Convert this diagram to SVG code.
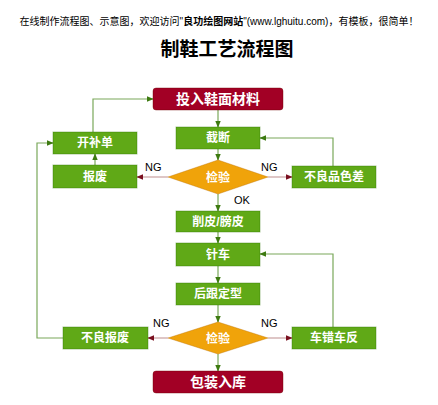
<svg xmlns="http://www.w3.org/2000/svg" width="438" height="405" viewBox="0 0 438 405">
<defs>
<style>
text{font-family:"Liberation Sans","Noto Sans CJK SC",sans-serif;}
.g rect{fill:#60a917;stroke:#2d7600;stroke-width:1;stroke-opacity:0.4;}
.r rect{fill:#a20025;stroke:#6f0000;stroke-width:1;stroke-opacity:0.4;}
.o polygon{fill:#f0a30a;stroke:#bd7000;stroke-width:1;stroke-opacity:0.4;}
.lbl{fill:#fff;font-size:12px;text-anchor:middle;font-weight:bold;}
.big{fill:#fff;font-size:14px;text-anchor:middle;font-weight:bold;}
.e{fill:none;stroke:#7aa85a;stroke-width:1.2;marker-end:url(#ag);}
.er{fill:none;stroke:#c8a0a0;stroke-width:1.2;marker-end:url(#ar);}
.t{font-size:11px;fill:#000;}
</style>
<marker id="ag" viewBox="0 0 10 10" refX="9" refY="5" markerWidth="6" markerHeight="6" orient="auto"><path d="M0,1 L10,5 L0,9 z" fill="#3d7a10"/></marker>
<marker id="ar" viewBox="0 0 10 10" refX="9" refY="5" markerWidth="6" markerHeight="6" orient="auto"><path d="M0,1 L10,5 L0,9 z" fill="#7a1020"/></marker>
</defs>
<rect width="438" height="405" fill="#fff"/>
<text x="219" y="25" text-anchor="middle" font-size="10" fill="#000">在线制作流程图、示意图，欢迎访问"<tspan font-weight="bold">良功绘图网站</tspan>"(www.lghuitu.com)，有模板，很简单！</text>
<text x="227" y="56" text-anchor="middle" font-size="19" font-weight="bold" fill="#000">制鞋工艺流程图</text>

<g id="connectors">
<path class="e" d="M218,110 V127"/>
<path class="e" d="M218,149 V160"/>
<path class="er" d="M168,177 H137"/>
<path class="er" d="M268,177 H292"/>
<path class="e" d="M333,166 V138 H260"/>
<path class="e" d="M95,165 V154"/>
<path class="e" d="M93,132 V99 H153"/>
<path class="e" d="M218,194 V211"/>
<path class="e" d="M218,232 V243"/>
<path class="e" d="M218,266 V283"/>
<path class="e" d="M218,305 V322"/>
<path class="er" d="M168,338 H148"/>
<path class="er" d="M268,338 H292"/>
<path class="e" d="M333,327 V254 H260"/>
<path class="e" d="M63,338 H37 V143 H53"/>
<path class="e" d="M218,354 V371"/>
<text class="t" x="145" y="171">NG</text>
<text class="t" x="261" y="171">NG</text>
<text class="t" x="234" y="204">OK</text>
<text class="t" x="153" y="327">NG</text>
<text class="t" x="261" y="327">NG</text>
</g>

<g id="n1" class="r"><rect x="153" y="88" width="130" height="22" rx="3"/><text class="big" x="218" y="104">投入鞋面材料</text></g>
<g id="n2" class="g"><rect x="176" y="127" width="84" height="22"/><text class="lbl" x="218" y="142">截断</text></g>
<g id="n3" class="o"><polygon points="218,160 268,177 218,194 168,177"/><text class="lbl" x="218" y="182">检验</text></g>
<g id="n4" class="g"><rect x="53" y="165" width="84" height="23"/><text class="lbl" x="95" y="181">报废</text></g>
<g id="n5" class="g"><rect x="53" y="132" width="84" height="22"/><text class="lbl" x="95" y="147">开补单</text></g>
<g id="n6" class="g"><rect x="292" y="166" width="84" height="22"/><text class="lbl" x="334" y="181">不良品色差</text></g>
<g id="n7" class="g"><rect x="176" y="211" width="84" height="21"/><text class="lbl" x="218" y="226">削皮/膀皮</text></g>
<g id="n8" class="g"><rect x="176" y="243" width="84" height="23"/><text class="lbl" x="218" y="259">针车</text></g>
<g id="n9" class="g"><rect x="176" y="283" width="84" height="22"/><text class="lbl" x="218" y="298">后跟定型</text></g>
<g id="n10" class="o"><polygon points="218,322 268,338 218,354 168,338"/><text class="lbl" x="218" y="343">检验</text></g>
<g id="n11" class="g"><rect x="63" y="327" width="85" height="22"/><text class="lbl" x="105" y="342">不良报废</text></g>
<g id="n12" class="g"><rect x="292" y="327" width="84" height="22"/><text class="lbl" x="334" y="342">车错车反</text></g>
<g id="n13" class="r"><rect x="153" y="371" width="130" height="22" rx="3"/><text class="big" x="218" y="387">包装入库</text></g>
</svg>
